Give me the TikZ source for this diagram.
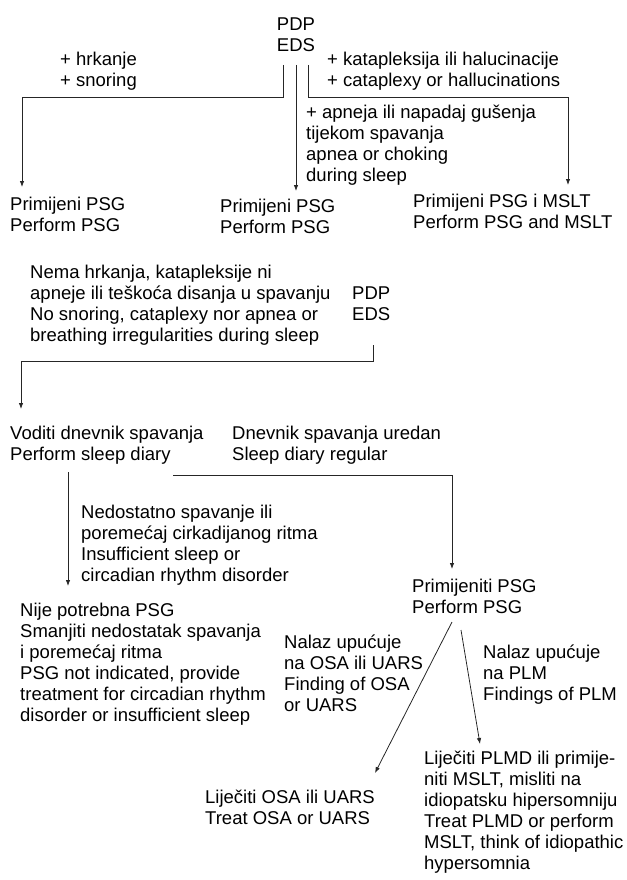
\documentclass[tikz,border=0pt]{standalone}
\usepackage{fontspec}
\setmainfont{Liberation Sans}
\usetikzlibrary{arrows.meta}
\newcommand{\fsz}{\fontsize{18.5pt}{21pt}\selectfont}
\begin{document}
\begin{tikzpicture}[x=1pt,y=-1pt,
  txt/.style={anchor=north west,inner sep=0pt,align=left,font=\fsz,yshift=14.7pt,text=black},
  arr/.style={-{Latex[length=6pt,width=4.5pt]},line width=0.8pt,draw=black!85},
  ln/.style={line width=0.8pt,draw=black!85}]
\useasboundingbox (0,0) rectangle (626,880);

% nodes
\node[txt,anchor=north,align=center] (top) at (296,30) {\strut PDP\\EDS};
\node[txt] (snore) at (60,65) {\strut + hrkanje\\+ snoring};
\node[txt] (cata) at (327,65) {\strut + katapleksija ili halucinacije\\+ cataplexy or hallucinations};
\node[txt] (apnea) at (306,118) {\strut + apneja ili napadaj gušenja\\tijekom spavanja\\apnea or choking\\during sleep};
\node[txt] (psg1) at (10,210) {\strut Primijeni PSG\\Perform PSG};
\node[txt] (psg2) at (220,212) {\strut Primijeni PSG\\Perform PSG};
\node[txt] (psg3) at (413,207) {\strut Primijeni PSG i MSLT\\Perform PSG and MSLT};
\node[txt] (none) at (30,278) {\strut Nema hrkanja, katapleksije ni\\apneje ili teškoća disanja u spavanju\\No snoring, cataplexy nor apnea or\\breathing irregularities during sleep};
\node[txt] (pdp2) at (352,299) {\strut PDP\\EDS};
\node[txt] (diary) at (10,439) {\strut Voditi dnevnik spavanja\\Perform sleep diary};
\node[txt] (regular) at (232,439) {\strut Dnevnik spavanja uredan\\Sleep diary regular};
\node[txt] (insuff) at (81,518) {\strut Nedostatno spavanje ili\\poremećaj cirkadijanog ritma\\Insufficient sleep or\\circadian rhythm disorder};
\node[txt] (nopsg) at (20,616) {\strut Nije potrebna PSG\\Smanjiti nedostatak spavanja\\i poremećaj ritma\\PSG not indicated, provide\\treatment for circadian rhythm\\disorder or insufficient sleep};
\node[txt] (psg4) at (412,592) {\strut Primijeniti PSG\\Perform PSG};
\node[txt] (osalab) at (284,648) {\strut Nalaz upućuje\\na OSA ili UARS\\Finding of OSA\\or UARS};
\node[txt] (plmlab) at (483,658) {\strut Nalaz upućuje\\na PLM\\Findings of PLM};
\node[txt] (osa) at (205,803) {\strut Liječiti OSA ili UARS\\Treat OSA or UARS};
\node[txt] (plmd) at (424,764) {\strut Liječiti PLMD ili primije-\\niti MSLT, misliti na\\idiopatsku hipersomniju\\Treat PLMD or perform\\MSLT, think of idiopathic\\hypersomnia};

% connector end points
\coordinate (a1) at (283,65);  \coordinate (a2) at (22,187);
\coordinate (b1) at (296,65);  \coordinate (b2) at (296,191);
\coordinate (c1) at (308,65);  \coordinate (c2) at (568,185);
\coordinate (d1) at (373,345); \coordinate (d2) at (21,409);
\coordinate (e1) at (68,472);  \coordinate (e2) at (68,586);
\coordinate (f1) at (173,475); \coordinate (f2) at (452,569);
\coordinate (g1) at (452,622); \coordinate (g2) at (375,773);
\coordinate (h1) at (461,630); \coordinate (h2) at (480,744);

% connectors
\draw[arr] (a1) -- ++(0,32) -| (a2);
\draw[arr] (b1) -- (b2);
\draw[arr] (c1) -- ++(0,32) -| (c2);
\draw[arr] (d1) -- ++(0,16) -| (d2);
\draw[arr] (e1) -- (e2);
\draw[arr] (f1) -| (f2);
\draw[arr] (g1) -- (g2);
\draw[arr] (h1) -- (h2);
\end{tikzpicture}
\end{document}
